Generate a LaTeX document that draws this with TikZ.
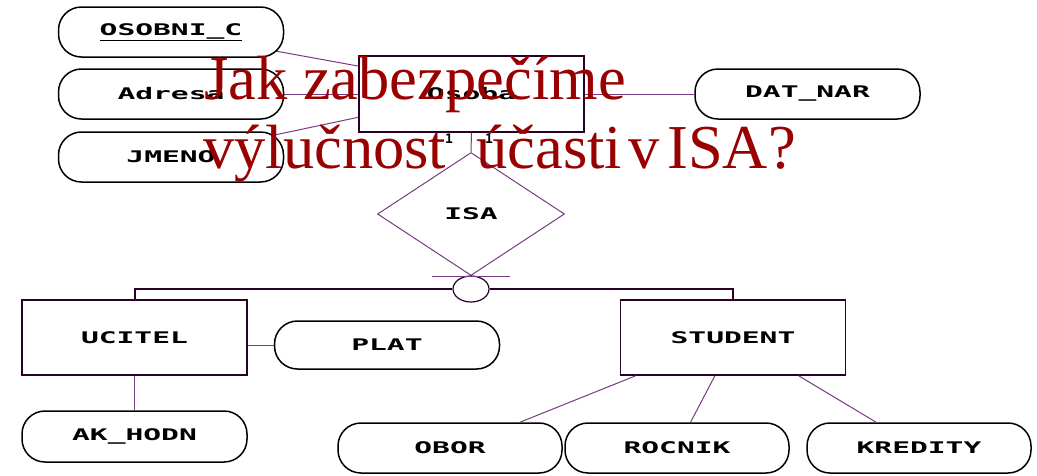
\documentclass[tikz,border=0pt]{standalone}
\usepackage{fontspec}
\usepackage{graphicx}
\usetikzlibrary{shapes.geometric,calc}
\setmainfont{Liberation Serif}
\newfontfamily\pixfont{DejaVu Sans Mono}
\definecolor{titlered}{RGB}{153,0,0}
\definecolor{linkcol}{RGB}{120,60,130}
\definecolor{edgecol}{RGB}{40,0,40}
% wide, blocky label lettering
\newcommand{\lbl}[1]{\scalebox{1.85}[1]{\fontsize{16}{18}\pixfont\bfseries #1}}
\tikzset{
  attr/.style={draw=black, line width=1.5pt, fill=white, rectangle,
    rounded corners=23pt, minimum width=225pt, minimum height=50pt, inner sep=0pt},
  entity/.style={draw=edgecol, line width=1.6pt, fill=white, rectangle,
    minimum width=225pt, minimum height=76pt, inner sep=0pt},
  rel/.style={draw=linkcol, line width=1pt, fill=white, diamond,
    minimum width=187pt, minimum height=123pt, inner sep=0pt},
  conn/.style={draw=linkcol, line width=1pt},
  isaline/.style={draw=edgecol, line width=2pt},
  card/.style={inner sep=0pt, font=\fontsize{13}{15}\pixfont\bfseries},
  title/.style={text=titlered, font=\fontsize{62.5}{70}\selectfont, inner sep=0pt, anchor=base west}
}
\begin{document}
\begin{tikzpicture}[x=1pt, y=-1pt]
\useasboundingbox (0,0) rectangle (1037,475);
\fill[white] (0,0) rectangle (1037,475);

% connectors (drawn first, nodes cover their inner parts)
\coordinate (osobniC) at (171,32);
\coordinate (adresaC) at (171,94);
\coordinate (jmenoC) at (171,157);
\node[entity] (osoba) at (471.5,94) {\lbl{Osoba}};
\draw[conn] (osobniC) -- ($(osoba.north west)!0.14!(osoba.south west)$);
\draw[conn] (adresaC) -- (osoba.west);
\draw[conn] (jmenoC) -- ($(osoba.north west)!0.80!(osoba.south west)$);

% attributes of the parent entity
\node[attr] (osobni) at (osobniC) {\lbl{\underline{OSOBNI\_C}}};
\node[attr] (adresa) at (adresaC) {\lbl{Adresa}};
\node[attr] (jmeno) at (jmenoC) {\lbl{JMENO}};
\node[attr] (datnar) at (807.5,94) {\lbl{DAT\_NAR}};
\draw[conn] (osoba.east) -- (datnar.west);

% ISA relationship
\node[rel] (isa) at (471,214) {\lbl{ISA}};
\draw[conn] (osoba.south) -- (isa.north);
\node[card] (c1) at (449,139) {1};
\node[card] (c2) at (489,139) {1};
\node[draw=edgecol, line width=1.2pt, fill=white, ellipse, minimum width=36pt,
  minimum height=26pt, inner sep=0pt] (disj) at (471,289) {};
\draw[conn] ($(isa.south)+(-39,0)$) coordinate (barL) -- ($(isa.south)+(39,0)$) coordinate (barR);

% subclasses
\node[entity, minimum height=75pt] (ucitel) at (134.5,337.5) {\lbl{UCITEL}};
\node[entity, minimum height=75pt] (student) at (733,337.5) {\lbl{STUDENT}};
\draw[isaline] (disj.west) -| (ucitel.north);
\draw[isaline] (disj.east) -| (student.north);

% attributes of UCITEL
\node[attr, minimum height=48pt] (plat) at (387,345) {\lbl{PLAT}};
\node[attr, minimum height=51pt] (akhodn) at (134.5,436.5) {\lbl{AK\_HODN}};
\draw[conn] (plat.west) -- (plat.west -| ucitel.east);
\draw[conn] (ucitel.south) -- (akhodn.north);

% attributes of STUDENT
\node[attr, minimum width=224pt] (obor) at (450,448) {\lbl{OBOR}};
\node[attr, minimum width=224pt] (rocnik) at (677,448) {\lbl{ROCNIK}};
\node[attr, minimum width=224pt] (kredity) at (919,448) {\lbl{KREDITY}};
\draw[conn] ($(student.south west)!0.07!(student.south east)$) -- ($(obor.north west)!0.81!(obor.north east)$);
\draw[conn] ($(student.south west)!0.42!(student.south east)$) -- ($(rocnik.north west)!0.56!(rocnik.north east)$);
\draw[conn] ($(student.south west)!0.79!(student.south east)$) -- ($(kredity.north west)!0.31!(kredity.north east)$);

% question set over the diagram
\node[title] (q1) at (204,99) {Jak zabezpečíme};
\node[title] (q2) at (203,168) {výlučnost\hspace{30pt}účasti\hspace{6pt}v\hspace{8pt}ISA?};
\end{tikzpicture}
\end{document}
